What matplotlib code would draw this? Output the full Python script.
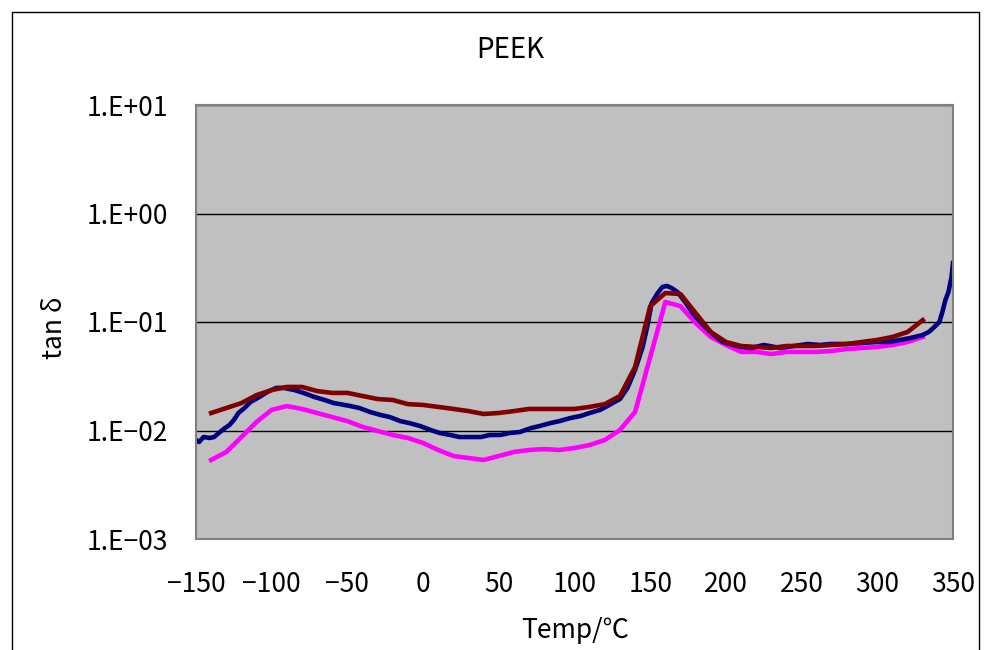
import numpy as np
import matplotlib.pyplot as plt
from matplotlib.patches import Rectangle
from matplotlib.ticker import FixedLocator, FixedFormatter, NullLocator

plt.rcParams['font.family'] = ['Noto Sans CJK JP', 'DejaVu Sans']

# navy series (dense measurement)
temp_a = [-150, -148, -145, -141, -138, -135, -131, -128, -125, -122, -118, -114,
          -108, -103, -97, -92, -85, -79, -72, -65, -59, -55, -48, -42, -35, -28,
          -22, -15, -9, -2, 5, 11, 18, 24, 31, 38, 44, 51, 57, 64, 71, 77, 84, 90,
          97, 104, 110, 117, 123, 130, 135, 140, 145, 148, 151, 155, 158, 161, 164,
          168, 173, 178, 185, 192, 198, 205, 210, 217, 225, 236, 245, 254, 262, 269,
          280, 290, 300, 308, 315, 322, 330, 334, 337, 341, 343, 345, 347, 349, 350]
tand_a = [0.00817, 0.00783, 0.00871, 0.00853, 0.00871, 0.00948, 0.0105, 0.0112,
          0.0125, 0.0145, 0.0161, 0.0183, 0.0204, 0.0226, 0.0247, 0.0247, 0.0236,
          0.0222, 0.0204, 0.0191, 0.0179, 0.0175, 0.0168, 0.0161, 0.0148, 0.0139,
          0.0133, 0.0122, 0.0117, 0.0110, 0.0101, 0.00948, 0.00909, 0.00871, 0.00871,
          0.00871, 0.00909, 0.00909, 0.00948, 0.00969, 0.0105, 0.0110, 0.0117, 0.0122,
          0.0130, 0.0136, 0.0145, 0.0155, 0.0172, 0.0195, 0.0247, 0.0361, 0.0589,
          0.0899, 0.150, 0.185, 0.210, 0.215, 0.206, 0.189, 0.153, 0.121, 0.0938,
          0.0759, 0.0655, 0.0614, 0.0589, 0.0576, 0.0614, 0.0576, 0.0601, 0.0627,
          0.0614, 0.0627, 0.0627, 0.0640, 0.0655, 0.0655, 0.0683, 0.0713, 0.0759,
          0.0809, 0.0881, 0.100, 0.124, 0.160, 0.189, 0.260, 0.350]

# dark red series
temp_b = list(range(-140, 340, 10))
tand_b = [0.0145, 0.0161, 0.0179, 0.0212, 0.0236, 0.0252, 0.0252, 0.0231, 0.0222,
          0.0222, 0.0208, 0.0195, 0.0191, 0.0175, 0.0172, 0.0165, 0.0158, 0.0151,
          0.0142, 0.0145, 0.0151, 0.0158, 0.0158, 0.0158, 0.0158, 0.0165, 0.0175,
          0.0208, 0.0385, 0.140, 0.185, 0.181, 0.121, 0.0809, 0.0655, 0.0601, 0.0589,
          0.0576, 0.0601, 0.0601, 0.0601, 0.0614, 0.0627, 0.0655, 0.0683, 0.0728,
          0.0809, 0.104]

# magenta series
temp_c = [-140, -130, -120, -110, -100, -90, -80, -70, -60, -50, -40, -30, -20, -10,
          0, 10, 20, 30, 40, 50, 60, 70, 80, 90, 100, 110, 120, 130, 140, 160, 170,
          180, 190, 200, 210, 220, 230, 240, 250, 260, 270, 280, 290, 300, 310, 320, 330]
tand_c = [0.00535, 0.00634, 0.00871, 0.0120, 0.0155, 0.0168, 0.0158, 0.0145, 0.0133,
          0.0122, 0.0108, 0.00989, 0.00909, 0.00853, 0.00767, 0.00661, 0.00582,
          0.00558, 0.00535, 0.00582, 0.00634, 0.00661, 0.00675, 0.00661, 0.00690,
          0.00735, 0.00817, 0.0101, 0.0148, 0.153, 0.140, 0.0979, 0.0728, 0.0614,
          0.0530, 0.0530, 0.0507, 0.0530, 0.0530, 0.0530, 0.0541, 0.0564, 0.0576,
          0.0589, 0.0614, 0.0655, 0.0728]

xticks = [-150, -100, -50, 0, 50, 100, 150, 200, 250, 300, 350]
xtick_labels = ['−150', '−100', '−50', '0', '50', '100', '150', '200', '250', '300', '350']
yticks = [1e-3, 1e-2, 1e-1, 1e0, 1e1]
ytick_labels = ['1.E−03', '1.E−02', '1.E−01', '1.E+00', '1.E+01']

fig = plt.figure(figsize=(9.91, 6.5), dpi=100)
ax = fig.add_axes([196 / 991, 1 - 539 / 650, (953 - 196) / 991, (539 - 105) / 650])
ax.set_facecolor('#C0C0C0')

ax.plot(temp_c, tand_c, color='#FF00FF', lw=3.3)
ax.plot(temp_a, tand_a, color='#000080', lw=3.3)
ax.plot(temp_b, tand_b, color='#800000', lw=3.3)

ax.set_yscale('log')
ax.set_xlim(-150, 350)
ax.set_ylim(1e-3, 1e1)
ax.xaxis.set_major_locator(FixedLocator(xticks))
ax.xaxis.set_major_formatter(FixedFormatter(xtick_labels))
ax.yaxis.set_major_locator(FixedLocator(yticks))
ax.yaxis.set_major_formatter(FixedFormatter(ytick_labels))
ax.yaxis.set_minor_locator(NullLocator())
ax.tick_params(axis='x', length=0, pad=23, labelsize=19)
ax.tick_params(axis='y', length=0, pad=20, labelsize=19)
ax.grid(True, axis='y', color='black', lw=1)
ax.set_axisbelow(True)
for s in ax.spines.values():
    s.set_color('#808080')
    s.set_linewidth(1.5)

fig.text(510 / 991, 1 - 50 / 650, 'PEEK', ha='center', va='center', fontsize=20)
fig.text(55 / 991, 1 - 328 / 650, 'tan δ', ha='center', va='center', rotation=90, fontsize=19)
fig.text(575 / 991, 1 - 630 / 650, 'Temp/℃', ha='center', va='center', fontsize=19)

fig.patches.append(Rectangle((12 / 991, -0.1), (979 - 12) / 991, 1.1 - 12 / 650,
                             transform=fig.transFigure, fill=False, ec='black', lw=1))

fig.savefig('out.png', dpi=100)
